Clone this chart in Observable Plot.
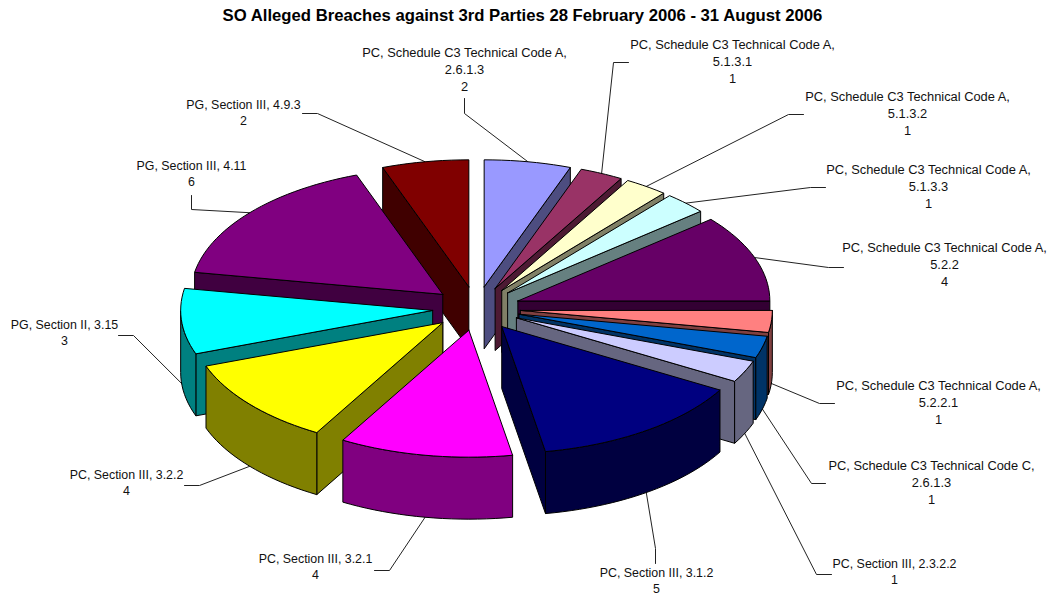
<!DOCTYPE html>
<html>
<head>
<meta charset="utf-8">
<script src="https://cdn.jsdelivr.net/npm/d3@7"></script>
<script src="https://cdn.jsdelivr.net/npm/@observablehq/plot@0.6"></script>
<style>
  html, body { margin: 0; padding: 0; background: #fff; overflow: hidden; }
  svg { display: block; }
</style>
</head>
<body>
<div id="chart"></div>
<script>
const chartTitle = "SO Alleged Breaches against 3rd Parties 28 February 2006 - 31 August 2006";

// Breach counts, clockwise from twelve o'clock
const categories = [
  "PC, Schedule C3 Technical Code A,\n2.6.1.3",
  "PC, Schedule C3 Technical Code A,\n5.1.3.1",
  "PC, Schedule C3 Technical Code A,\n5.1.3.2",
  "PC, Schedule C3 Technical Code A,\n5.1.3.3",
  "PC, Schedule C3 Technical Code A,\n5.2.2",
  "PC, Schedule C3 Technical Code A,\n5.2.2.1",
  "PC, Schedule C3 Technical Code C,\n2.6.1.3",
  "PC, Section III, 2.3.2.2",
  "PC, Section III, 3.1.2",
  "PC, Section III, 3.2.1",
  "PC, Section III, 3.2.2",
  "PG, Section II, 3.15",
  "PG, Section III, 4.11",
  "PG, Section III, 4.9.3"
];
const counts = [2, 1, 1, 1, 4, 1, 1, 1, 5, 4, 4, 3, 6, 2];
const sliceColors = [
  "#9999ff", "#993366", "#ffffcc", "#ccffff", "#660066", "#ff8080", "#0066cc",
  "#ccccff", "#000080", "#ff00ff", "#ffff00", "#00ffff", "#800080", "#800000"
];

// Painter's order: right-hand wedges back to front, then left-hand ones
const paintOrder = [0, 1, 2, 3, 4, 5, 6, 7, 13, 12, 11, 10, 9, 8];

// Projected pie geometry, in SVG units
const pie = {cx: 476, cy: 308, rx: 252, ry: 127, explode: 44, depth: 62};

// Label centre and top row, plus the leader's elbow and end
const labelLayout = [
  {x: 464, y: 45, elbow: [464, 113], end: [464, 98]},
  {x: 732, y: 37, elbow: [613, 62], end: [628, 62]},
  {x: 907, y: 89, elbow: [788, 114], end: [803, 114]},
  {x: 928, y: 162, elbow: [810, 187], end: [825, 187]},
  {x: 944, y: 240, elbow: [828, 267], end: [843, 267]},
  {x: 938, y: 378, elbow: [819, 403], end: [834, 403]},
  {x: 931, y: 458, elbow: [811, 483], end: [825, 483]},
  {x: 894, y: 556, elbow: [816, 574], end: [831, 574]},
  {x: 656, y: 565, elbow: [655, 548], end: [655, 563]},
  {x: 315, y: 551, elbow: [389, 570], end: [374, 570]},
  {x: 126, y: 467, elbow: [199, 485], end: [184, 485]},
  {x: 64, y: 317, elbow: [133, 335], end: [118, 335]},
  {x: 191, y: 158, elbow: [191, 209], end: [191, 195]},
  {x: 243, y: 97, elbow: [317, 113], end: [302, 113]}
];

const total = d3.sum(counts);
const running = d3.cumsum(counts);
const wedges = counts.map((n, i) => {
  const end = running[i] / total * 360;
  const start = end - n / total * 360;
  return {i, n, start, end, mid: (start + end) / 2};
});

const rad = (deg) => deg * Math.PI / 180;

// Top-surface apex of a wedge once it has been pulled out along its mid-angle
const apexOf = (w) => ({
  x: pie.cx + pie.explode * Math.sin(rad(w.mid)),
  y: pie.cy - pie.explode / 2 * Math.cos(rad(w.mid))
});
const rimPoint = (w, angle, drop = 0) => {
  const a = apexOf(w);
  return {
    x: a.x + pie.rx * Math.sin(rad(angle)),
    y: a.y - pie.ry * Math.cos(rad(angle)) + drop
  };
};
const arcAngles = (from, to) => {
  const steps = Math.max(1, Math.ceil((to - from) / 2));
  return d3.range(steps + 1).map((k) => from + (to - from) * k / steps);
};

const faces = [];
function addFace(id, fill, points) {
  [...points, points[0]].forEach((p) => faces.push({id, fill, x: p.x, y: p.y}));
}

for (const idx of paintOrder) {
  const w = wedges[idx];
  const top = sliceColors[idx];
  const c = d3.rgb(top);
  const side = d3.rgb(c.r / 2, c.g / 2, c.b / 2).formatHex();
  const a = apexOf(w);
  const aLow = {x: a.x, y: a.y + pie.depth};

  // A radial wall is only seen when it faces toward the viewer
  if (Math.sin(rad(w.end)) > 1e-6) {
    addFace(`${idx}-end`, side, [a, rimPoint(w, w.end), rimPoint(w, w.end, pie.depth), aLow]);
  }
  if (Math.sin(rad(w.start)) < -1e-6) {
    addFace(`${idx}-start`, side, [a, rimPoint(w, w.start), rimPoint(w, w.start, pie.depth), aLow]);
  }
  // Outer wall, limited to the front half of the ellipse
  const from = Math.max(w.start, 90);
  const to = Math.min(w.end, 270);
  if (to > from) {
    const arc = arcAngles(from, to);
    addFace(`${idx}-rim`, side, [
      ...arc.map((t) => rimPoint(w, t)),
      ...arc.slice().reverse().map((t) => rimPoint(w, t, pie.depth))
    ]);
  }
  addFace(`${idx}-top`, top, [a, ...arcAngles(w.start, w.end).map((t) => rimPoint(w, t))]);
}

// Leaders leave the top edge at the back and the bottom edge at the front
const leaders = wedges.flatMap((w) => {
  const front = Math.cos(rad(w.mid)) < 0;
  const p = rimPoint(w, w.mid, front ? pie.depth : 0);
  const l = labelLayout[w.i];
  return [
    {i: w.i, x: p.x, y: p.y},
    {i: w.i, x: l.elbow[0], y: l.elbow[1]},
    {i: w.i, x: l.end[0], y: l.end[1]}
  ];
});

const labels = wedges.map((w) => ({
  x: labelLayout[w.i].x,
  y: labelLayout[w.i].y,
  text: `${categories[w.i]}\n${w.n}`,
  size: categories[w.i].includes("Schedule") ? 12.85 : 12.4
}));

const font = "'Liberation Sans', Arial, sans-serif";

const chart = Plot.plot({
  width: 1056,
  height: 599,
  margin: 0,
  style: {background: "#fff", fontFamily: font},
  x: {domain: [0, 1056], range: [0, 1056], axis: null},
  y: {domain: [0, 599], range: [0, 599], axis: null},
  color: {type: "identity"},
  marks: [
    Plot.line(leaders, {x: "x", y: "y", z: "i", stroke: "#222", strokeWidth: 1}),
    Plot.line(faces, {
      x: "x", y: "y", z: "id", fill: "fill",
      stroke: "#000", strokeWidth: 1, strokeLinejoin: "round"
    }),
    Plot.text(labels, {
      x: "x", y: "y", text: "text",
      fontSize: "size", lineHeight: 1.31, lineAnchor: "top",
      textAnchor: "middle", fill: "#111"
    }),
    Plot.text([chartTitle], {
      x: () => 522, y: () => 15, text: (d) => d,
      fontSize: 16.7, fontWeight: "bold", textAnchor: "middle", fill: "#000"
    })
  ]
});

document.getElementById("chart").append(chart);
</script>
</body>
</html>
